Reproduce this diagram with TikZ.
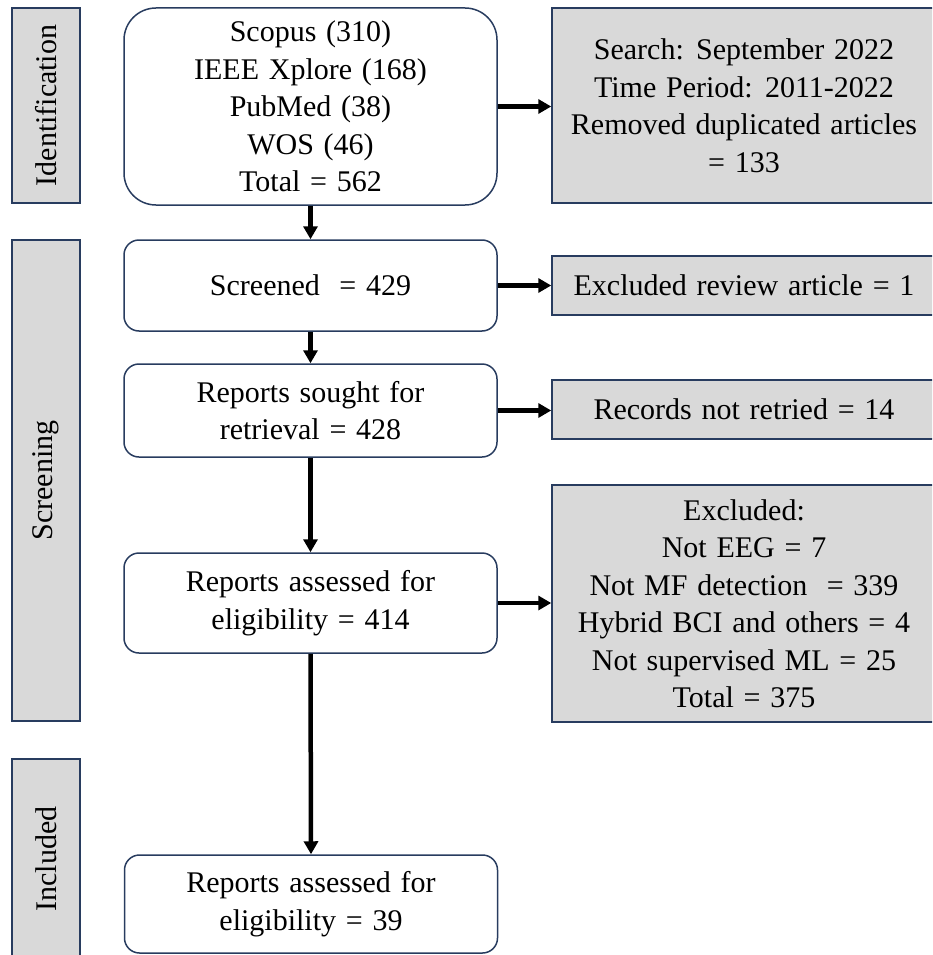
\documentclass[tikz,border=0pt]{standalone}
\usepackage{fontspec}
\setmainfont[WordSpace={1.3,0.5,0.5}]{Liberation Serif}
\usetikzlibrary{arrows.meta}
\definecolor{bord}{RGB}{40,60,95}
\definecolor{grayfill}{RGB}{217,217,217}
\begin{document}
\begin{tikzpicture}[x=1pt,y=-1pt,
  font=\fontsize{30}{37.5}\selectfont,
  mainbox/.style={draw=bord, line width=1.5pt, rounded corners=15pt, fill=white,
    minimum width=373pt, align=center, inner sep=0pt},
  sidebox/.style={draw=bord, line width=1.5pt, fill=grayfill, minimum width=384pt,
    align=center, inner sep=0pt},
  stagebox/.style={draw=bord, line width=1.5pt, fill=grayfill, minimum height=68pt,
    rotate=90, inner sep=0pt},
  arr/.style={line width=4.5pt, -{Triangle[length=13pt,width=14pt]}}]
\useasboundingbox (0,0) rectangle (932,955);
\clip (0,0) rectangle (932,955);

% stage labels
\node[stagebox, minimum width=195pt] (sid) at (46,105.5) {Identification};
\node[stagebox, minimum width=481pt] (sscr) at (46,480.5) {Screening};
\node[stagebox, minimum width=200pt] (sinc) at (46,859) {Included};

% main boxes
\node[mainbox, minimum height=197pt, rounded corners=32pt] (b1) at (310.5,106.5)
  {Scopus (310)\\IEEE Xplore (168)\\PubMed (38)\\WOS (46)\\Total = 562};
\node[mainbox, minimum height=91pt] (b2) at (310.5,285.5) {Screened \ = 429};
\node[mainbox, minimum height=93pt] (b3) at (310.5,410.5) {Reports sought for\\retrieval = 428};
\node[mainbox, minimum height=100pt] (b4) at (310.5,603) {Reports assessed for\\eligibility = 414};
\node[mainbox, minimum height=98pt] (b5) at (311,904) {Reports assessed for\\eligibility = 39};

% side boxes
\node[sidebox, minimum height=195pt] (g1) at (744,105.5)
  {Search: September 2022\\Time Period: 2011-2022\\Removed duplicated articles\\= 133};
\node[sidebox, minimum height=59pt] (g2) at (744,285.5) {Excluded review article = 1};
\node[sidebox, minimum height=59pt] (g3) at (744,409.5) {Records not retried = 14};
\node[sidebox, minimum height=237pt] (g4) at (744,603.5)
  {Excluded:\\Not EEG = 7\\Not MF detection \ = 339\\Hybrid BCI and others = 4\\Not supervised ML = 25\\Total = 375};

% vertical arrows
\draw[arr] (b1.south) -- (b2.north);
\draw[arr] (b2.south) -- (b3.north);
\draw[arr] (b3.south) -- (b4.north);
\draw[arr] (b4.south) -- (b5.north);

% horizontal arrows
\draw[arr] (b1.east) -- (b1.east -| g1.west);
\draw[arr] (b2.east) -- (b2.east -| g2.west);
\draw[arr] (b3.east) -- (b3.east -| g3.west);
\draw[arr] (b4.east) -- (b4.east -| g4.west);
\end{tikzpicture}
\end{document}
